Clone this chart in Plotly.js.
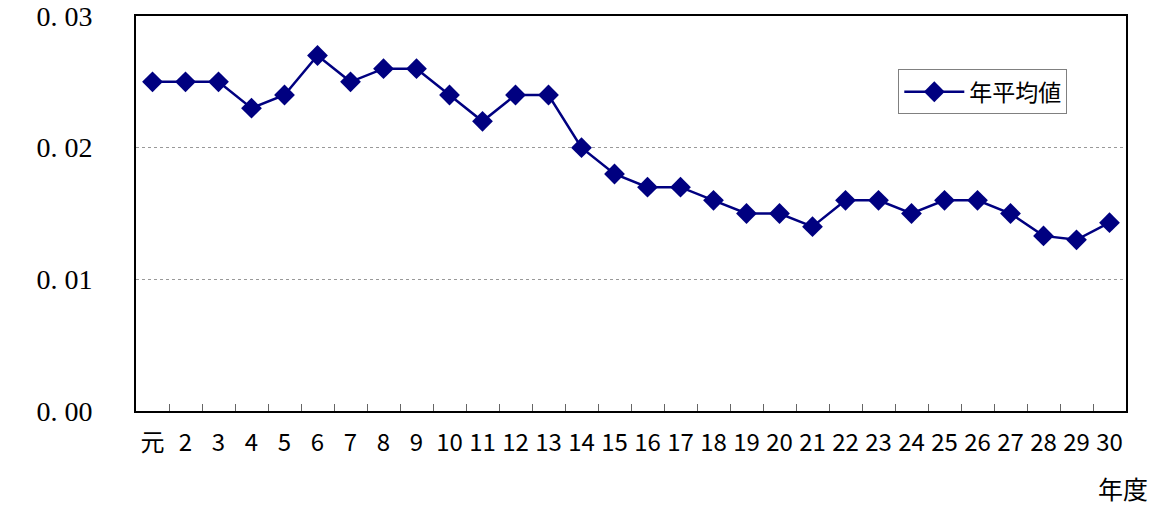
<!DOCTYPE html>
<html><head><meta charset="utf-8">
<script src="https://cdn.plot.ly/plotly-3.0.1.min.js"></script>
<style>body{margin:0;background:#fff}#c{width:1158px;height:506px}</style>
</head><body><div id="c"></div>
<script>
const categories = ["元","2","3","4","5","6","7","8","9","10","11","12","13","14","15","16","17","18","19","20","21","22","23","24","25","26","27","28","29","30"];
const values = [0.025,0.025,0.025,0.023,0.024,0.027,0.025,0.026,0.026,0.024,0.022,0.024,0.024,0.020,0.018,0.017,0.017,0.016,0.015,0.015,0.014,0.016,0.016,0.015,0.016,0.016,0.015,0.0133,0.013,0.0143];
const yTickVals = [0, 0.01, 0.02, 0.03];
const yTickText = ["0. 00","0. 01","0. 02","0. 03"];
const seriesName = "年平均値";
const xTitle = "年度";

const trace = {
  x: categories, y: values, type: "scatter", mode: "lines+markers", name: seriesName,
  line: {color: "#000080", width: 2.5},
  marker: {symbol: "diamond", size: 16, color: "#000080"}
};
const layout = {
  width: 1158, height: 506,
  margin: {l: 136, r: 32, t: 16, b: 95},
  paper_bgcolor: "#fff", plot_bgcolor: "#fff",
  showlegend: true,
  legend: {x: 0.77, y: 0.865, xanchor: "left", yanchor: "top", bordercolor: "#808080", borderwidth: 1,
    itemwidth: 60, tracegroupgap: 0,
    font: {family: "Noto Sans CJK JP", size: 23, color: "#000"}, bgcolor: "#fff"},
  xaxis: {
    type: "category", showline: true, linecolor: "#000", linewidth: 2, mirror: true,
    ticks: "inside", tickson: "boundaries", ticklen: 7, tickcolor: "#666", tickwidth: 1,
    showgrid: false, zeroline: false, tickangle: 0, ticklabelstandoff: 9,
    tickfont: {family: "Noto Sans CJK JP", size: 24, color: "#000"},
    range: [-0.5, 29.5]
  },
  yaxis: {
    range: [0, 0.03], tickvals: yTickVals, ticktext: yTickText,
    showline: true, linecolor: "#000", linewidth: 2, mirror: true,
    ticks: "", showgrid: true, gridcolor: "#999", griddash: "dot", gridwidth: 1,
    zeroline: false, ticklabelstandoff: 36,
    tickfont: {family: "Liberation Serif, DejaVu Serif, serif", size: 28, color: "#000"}
  },
  annotations: [{text: xTitle, xref: "paper", yref: "paper", x: 1.024, y: -0.195, xanchor: "right", yanchor: "middle",
    showarrow: false, font: {family: "Noto Sans CJK JP", size: 25, color: "#000"}}]
};
Plotly.newPlot("c", [trace], layout, {displayModeBar: false, staticPlot: true});
</script></body></html>
